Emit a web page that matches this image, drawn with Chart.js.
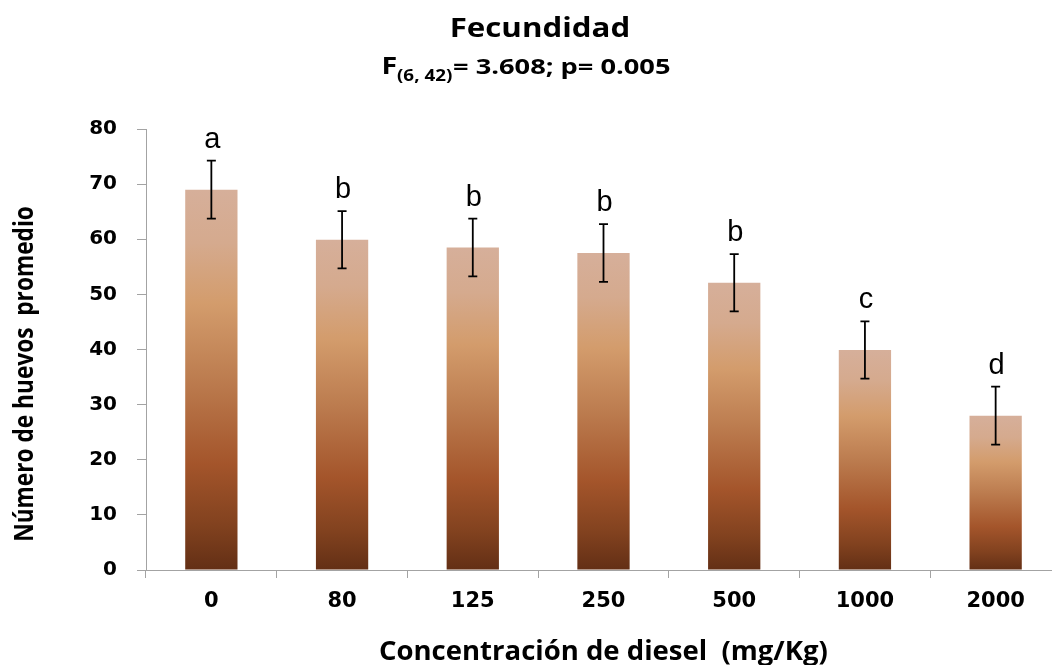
<!DOCTYPE html>
<html>
<head>
<meta charset="utf-8">
<script src="https://cdn.jsdelivr.net/npm/chart.js@4"></script>
<style>
  html, body { margin: 0; padding: 0; background: #fff; overflow: hidden; }
  #wrap { position: relative; width: 1062px; height: 665px; }
</style>
</head>
<body>
<div id="wrap"><canvas id="c"></canvas></div>
<script>
// Diesel concentration (mg/Kg) and mean number of eggs per treatment
const categories = ['0', '80', '125', '250', '500', '1000', '2000'];
const meanEggs = [69.0, 59.9, 58.5, 57.5, 52.1, 39.9, 28.0];
const errEggs = [5.25, 5.2, 5.25, 5.25, 5.2, 5.2, 5.25];
const groupLetters = ['a', 'b', 'b', 'b', 'b', 'c', 'd'];
const yMin = 0, yMax = 80, yStep = 10;

const AXIS_GREY = '#a3a3a3';

// Draws text so that its ink spans exactly `width` px with the given cap height
function drawFitted(ctx, text, o) {
  const size = o.capH / o.capRatio;
  ctx.font = `${o.weight} ${size}px ${o.family}`;
  ctx.textAlign = 'left';
  ctx.textBaseline = 'alphabetic';
  const m = ctx.measureText(text);
  const ink = m.actualBoundingBoxLeft + m.actualBoundingBoxRight;
  const sx = o.width / ink;
  const left = o.center !== undefined ? o.center - o.width / 2 : o.left;
  ctx.save();
  ctx.translate(left + m.actualBoundingBoxLeft * sx, o.baseline);
  ctx.scale(sx, 1);
  ctx.fillStyle = o.color || '#000';
  ctx.fillText(text, 0, 0);
  ctx.restore();
}

function barGradient(c) {
  const chart = c.chart;
  const y = chart.scales && chart.scales.y;
  if (!chart.chartArea || !y || c.dataIndex === undefined) return '#b06a3c';
  const top = y.getPixelForValue(meanEggs[c.dataIndex]);
  const bot = y.getPixelForValue(0);
  const g = chart.ctx.createLinearGradient(0, top, 0, bot);
  g.addColorStop(0.00, '#d6af9a');
  g.addColorStop(0.14, '#d5aa8e');
  g.addColorStop(0.30, '#d39c6c');
  g.addColorStop(0.50, '#bc7c4f');
  g.addColorStop(0.72, '#a4552b');
  g.addColorStop(0.88, '#82421f');
  g.addColorStop(1.00, '#632f15');
  return g;
}

// Error bars and significance letters above each bar
const errorBarPlugin = {
  id: 'errorBars',
  afterDatasetsDraw(chart) {
    const ctx = chart.ctx;
    const y = chart.scales.y;
    const meta = chart.getDatasetMeta(0);
    ctx.save();
    meta.data.forEach((bar, i) => {
      const x = bar.x;
      const yt = y.getPixelForValue(meanEggs[i] + errEggs[i]);
      const yb = y.getPixelForValue(meanEggs[i] - errEggs[i]);
      ctx.strokeStyle = '#000';
      ctx.lineWidth = 1.8;
      ctx.beginPath();
      ctx.moveTo(x, yt); ctx.lineTo(x, yb);
      ctx.moveTo(x - 4.5, yt); ctx.lineTo(x + 4.5, yt);
      ctx.moveTo(x - 4.5, yb); ctx.lineTo(x + 4.5, yb);
      ctx.stroke();

      ctx.fillStyle = '#000';
      ctx.font = '29px "Liberation Sans", Arial, sans-serif';
      ctx.textAlign = 'center';
      ctx.textBaseline = 'alphabetic';
      ctx.fillText(groupLetters[i], x + 1, yt - 13);
    });
    ctx.restore();
  }
};

// Titles: main title, F-statistic line, and both axis titles
const titlePlugin = {
  id: 'titles',
  afterDraw(chart) {
    const ctx = chart.ctx;
    const os = '"Open Sans", "Noto Sans", sans-serif';
    ctx.save();
    drawFitted(ctx, 'Fecundidad', { family: os, weight: 'bold', capRatio: 0.714, capH: 19, width: 176, center: 540, baseline: 37 });

    drawFitted(ctx, 'F', { family: os, weight: 'bold', capRatio: 0.714, capH: 17, width: 12, left: 384, baseline: 74 });
    drawFitted(ctx, '(6, 42)', { family: os, weight: 'bold', capRatio: 0.714, capH: 11, width: 55, left: 397, baseline: 81 });
    drawFitted(ctx, '= 3.608; p= 0.005', { family: os, weight: 'bold', capRatio: 0.714, capH: 15.5, width: 217, left: 453, baseline: 74 });

    drawFitted(ctx, 'Concentración de diesel  (mg/Kg)', { family: os, weight: 'bold', capRatio: 0.714, capH: 18.5, width: 447, center: 603.5, baseline: 660 });

    ctx.translate(33, 373.5);
    ctx.rotate(-Math.PI / 2);
    drawFitted(ctx, 'Número de huevos  promedio', { family: os, weight: 'bold', capRatio: 0.714, capH: 18.5, width: 333, center: 0, baseline: 0 });
    ctx.restore();
  }
};

new Chart(document.getElementById('c'), {
  type: 'bar',
  data: {
    labels: categories,
    datasets: [{
      label: 'Número de huevos promedio',
      data: meanEggs,
      backgroundColor: barGradient,
      borderWidth: 0,
      barPercentage: 0.4,
      categoryPercentage: 1.0
    }]
  },
  options: {
    responsive: true,
    maintainAspectRatio: false,
    animation: false,
    layout: { padding: { top: 129, left: 0, right: 1, bottom: 0 } },
    plugins: {
      legend: { display: false },
      title: { display: false },
      tooltip: { enabled: false }
    },
    scales: {
      x: {
        offset: true,
        grid: { display: true, offset: true, drawOnChartArea: false, drawTicks: true, tickLength: 8, color: AXIS_GREY, lineWidth: 1 },
        border: { display: true, color: AXIS_GREY, width: 1 },
        ticks: { color: '#000', font: { family: '"DejaVu Sans", sans-serif', weight: 'bold', size: 21 }, padding: 11, maxRotation: 0 },
        afterFit(s) { s.height = 95; }
      },
      y: {
        min: yMin,
        max: yMax,
        grid: { display: true, drawOnChartArea: false, drawTicks: true, tickLength: 9, color: AXIS_GREY, lineWidth: 1 },
        border: { display: true, color: AXIS_GREY, width: 1 },
        ticks: { stepSize: yStep, color: '#000', font: { family: '"DejaVu Sans", sans-serif', weight: 'bold', size: 20 }, padding: 20 },
        afterFit(s) { s.width = 146; }
      }
    }
  },
  plugins: [errorBarPlugin, titlePlugin]
});
</script>
</body>
</html>
